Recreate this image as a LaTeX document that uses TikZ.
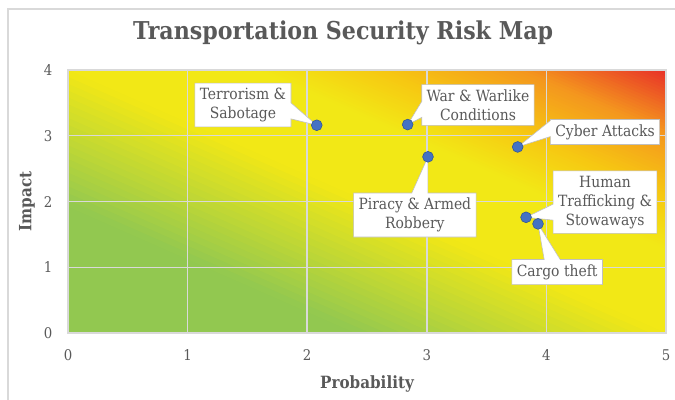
\documentclass[tikz,border=0pt]{standalone}
\usepackage{fontspec}
\setmainfont{DejaVu Serif Condensed}
\usetikzlibrary{shapes.callouts}
\definecolor{txtgray}{HTML}{595959}
\definecolor{boxgray}{HTML}{BFBFBF}
\definecolor{gridgray}{HTML}{D9D9D9}
\definecolor{dotblue}{HTML}{4472C4}
\definecolor{dotedge}{HTML}{2F5597}
\definecolor{rgreen}{RGB}{146,200,80}
\definecolor{ryellow}{RGB}{242,232,22}
\definecolor{rgold}{RGB}{246,200,18}
\definecolor{rorange}{RGB}{244,150,30}
\definecolor{rred}{RGB}{232,48,40}
\pgfmathsetmacro{\xu}{2.99}
\pgfmathsetmacro{\yu}{1.644}
% diagonal colour bands across the plot area, #1..#2 = position, #3 -> #4 = colours
\newcommand{\riskband}[4]{%
  \foreach \k in {0,...,19}{
    \pgfmathsetmacro{\sa}{2*(#1+(#2-#1)*\k/20)}
    \pgfmathsetmacro{\sb}{2*(#1+(#2-#1)*(\k+1)/20)+0.006}
    \pgfmathsetmacro{\pc}{100*(\k+0.5)/20}
    \fill[#4!\pc!#3] (5*\sa+5,-4) -- (-5,4*\sa+4) -- (-5,4*\sb+4) -- (5*\sb+5,-4) -- cycle;
  }}
\tikzset{
  risklabel/.style={rectangle callout, draw=boxgray, fill=white, text=txtgray, align=center,
    font=\fontsize{11}{13.5}\selectfont, inner sep=3.5pt, callout pointer width=0.4cm},
  riskdot/.style={circle, fill=dotblue, draw=dotedge, line width=0.4pt, inner sep=0pt, minimum size=0.27cm},
  ticklabel/.style={text=txtgray, font=\fontsize{10.5}{12}\selectfont},
  gridline/.style={gridgray, line width=1pt},
}

\begin{document}
\begin{tikzpicture}[x=\xu cm, y=\yu cm]
	\useasboundingbox (-0.5686,-1.0038) rectangle (5.0753,5.0646);
	% chart frame
	\draw[gridgray, line width=1.5pt] (-0.502,-1.1) -- (-0.502,4.928) -- (5.2,4.928);
	% shaded plot area
	\begin{scope}
		\clip (0,0) rectangle (5,4);
		\riskband{0}{0.24}{rgreen}{rgreen}
		\riskband{0.24}{0.5}{rgreen}{ryellow}
		\riskband{0.5}{0.66}{ryellow}{ryellow}
		\riskband{0.66}{0.76}{ryellow}{rgold}
		\riskband{0.76}{0.88}{rgold}{rorange}
		\riskband{0.88}{1}{rorange}{rred}
	\end{scope}
	\foreach \i in {1,...,4} \draw[gridline] (\i,0) -- (\i,4);
	\foreach \j in {1,2,3} \draw[gridline] (0,\j) -- (5,\j);
	\draw[gridline] (0,0) rectangle (5,4);
	% axes
	\foreach \i in {0,...,5} \node[ticklabel] (xt\i) at (\i,-0.335) {\i};
	\foreach \j in {0,...,4} \node[ticklabel] (yt\j) at (-0.167,\j) {\j};
	\node[text=txtgray, font=\fontsize{12}{14}\selectfont\bfseries] (xlab) at (2.5,-0.77) {Probability};
	\node[text=txtgray, font=\fontsize{12}{14}\selectfont\bfseries, rotate=90] (ylab) at (-0.343,2) {Impact};
	\node[text=txtgray, font=\fontsize{17.5}{20}\selectfont\bfseries] (title) at (2.30,4.563) {Transportation Security Risk Map};
	% risk points
	\coordinate (terr) at (2.08,3.16);
	\coordinate (war) at (2.84,3.17);
	\coordinate (cyber) at (3.76,2.83);
	\coordinate (piracy) at (3.01,2.68);
	\coordinate (human) at (3.83,1.76);
	\coordinate (cargo) at (3.93,1.66);
	% callouts
	\node[risklabel, callout absolute pointer={(terr)}] (terrlab) at (1.463,3.468) {Terrorism \&\\Sabotage};
	\node[risklabel, callout absolute pointer={(war)}] (warlab) at (3.428,3.468) {War \& Warlike\\Conditions};
	\node[risklabel, callout absolute pointer={(cyber)}] (cyberlab) at (4.49,3.057) {Cyber Attacks};
	\node[risklabel, callout absolute pointer={(piracy)}] (piracylab) at (2.90,1.795) {Piracy \& Armed\\Robbery};
	\node[risklabel, callout absolute pointer={(cargo)}] (cargolab) at (4.09,0.928) {Cargo theft};
	\node[risklabel, callout absolute pointer={(human)}] (humanlab) at (4.49,1.99) {Human\\Trafficking \&\\Stowaways};
	\foreach \p in {terr,war,cyber,piracy,cargo,human} \node[riskdot] at (\p) {};
\end{tikzpicture}
\end{document}
